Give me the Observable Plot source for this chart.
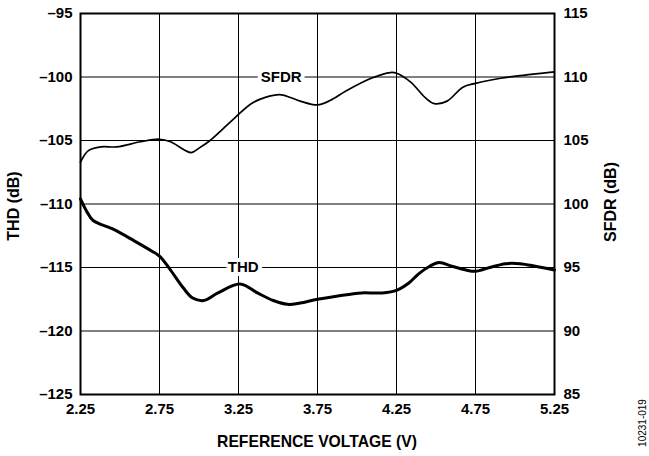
<!DOCTYPE html>
<html>
<head>
<meta charset="utf-8">
<script src="https://cdn.jsdelivr.net/npm/d3@7"></script>
<script src="https://cdn.jsdelivr.net/npm/@observablehq/plot@0.6"></script>
<style>
  html, body { margin: 0; padding: 0; background: #fff; }
  #chart { position: relative; width: 649px; height: 456px; }
  svg { font-family: "Liberation Sans", Arial, sans-serif; }
  svg text { font-weight: bold; }
  svg text.note { font-weight: normal; }
</style>
</head>
<body>
<div id="chart"></div>
<script>
// Reference voltage (V) and THD (dB, left axis)
const thdVoltage = [2.25, 2.29, 2.33, 2.46, 2.59, 2.70, 2.75, 2.82, 2.90, 2.96, 3.03, 3.12, 3.26, 3.37, 3.47, 3.56, 3.64, 3.75, 3.96, 4.03, 4.16, 4.25, 4.33, 4.39, 4.46, 4.52, 4.60, 4.69, 4.75, 4.84, 4.94, 5.03, 5.13, 5.25];
const thdValues  = [-109.6, -110.6, -111.3, -112.0, -112.9, -113.7, -114.1, -115.2, -116.6, -117.4, -117.6, -117.0, -116.3, -117.0, -117.6, -117.9, -117.8, -117.5, -117.1, -117.0, -117.0, -116.8, -116.2, -115.5, -114.9, -114.6, -114.9, -115.2, -115.3, -115.0, -114.7, -114.7, -114.9, -115.2];

// Reference voltage (V) and SFDR (dB, right axis)
const sfdrVoltage = [2.25, 2.30, 2.38, 2.48, 2.63, 2.75, 2.82, 2.95, 3.00, 3.07, 3.15, 3.22, 3.33, 3.42, 3.52, 3.64, 3.75, 3.83, 3.93, 4.09, 4.21, 4.25, 4.34, 4.43, 4.49, 4.57, 4.67, 4.75, 4.91, 5.10, 5.25];
const sfdrValues  = [103.3, 104.2, 104.5, 104.5, 104.9, 105.1, 104.9, 104.05, 104.4, 105.0, 105.9, 106.7, 107.9, 108.4, 108.6, 108.1, 107.8, 108.15, 108.9, 109.9, 110.35, 110.3, 109.6, 108.4, 107.9, 108.1, 109.2, 109.5, 109.9, 110.2, 110.4];

const xTicks = [2.25, 2.75, 3.25, 3.75, 4.25, 4.75, 5.25];
const thdTicks = [-95, -100, -105, -110, -115, -120, -125];
const sfdrTicks = [115, 110, 105, 100, 95, 90, 85];
const sfdrOffset = 210; // SFDR axis value = THD axis value + 210

const seriesLabels = ["SFDR", "THD"];
const labelVoltage = [3.52, 3.28];
const labelValue = [-100, -115];

const thd = thdVoltage.map((v, i) => ({v, y: thdValues[i]}));
const sfdr = sfdrVoltage.map((v, i) => ({v, y: sfdrValues[i] - sfdrOffset}));
const labels = seriesLabels.map((t, i) => ({t, v: labelVoltage[i], y: labelValue[i]}));

const fmtLeft = d => (d < 0 ? "\u2013" : "") + Math.abs(d);

const plot = Plot.plot({
  width: 649,
  height: 456,
  marginLeft: 80,
  marginRight: 95,
  marginTop: 13,
  marginBottom: 62,
  style: {fontFamily: "'Liberation Sans', Arial, sans-serif", background: "#fff"},
  x: {domain: [2.25, 5.25]},
  y: {domain: [-125, -95]},
  marks: [
    Plot.ruleX(xTicks, {stroke: "#000", strokeWidth: 1}),
    Plot.ruleY(thdTicks, {stroke: "#000", strokeWidth: 1}),
    Plot.frame({stroke: "#000", strokeWidth: 2}),
    Plot.axisX(xTicks, {tickSize: 0, tickPadding: 9, fontSize: 15, fontWeight: "bold", fill: "#000",
      tickFormat: d => d.toFixed(2), label: null}),
    Plot.axisY(thdTicks, {anchor: "left", tickSize: 0, tickPadding: 8, fontSize: 15, fontWeight: "bold", fill: "#000",
      tickFormat: fmtLeft, label: null}),
    Plot.axisY(sfdrTicks.map(d => d - sfdrOffset), {anchor: "right", tickSize: 0, tickPadding: 9, fontSize: 15, fontWeight: "bold", fill: "#000",
      tickFormat: d => String(d + sfdrOffset), label: null}),
    Plot.line(sfdr, {x: "v", y: "y", curve: "catmull-rom", stroke: "#000", strokeWidth: 1.7}),
    Plot.line(thd, {x: "v", y: "y", curve: "catmull-rom", stroke: "#000", strokeWidth: 3}),
    Plot.text(labels, {x: "v", y: "y", text: "t", fontSize: 15, fontWeight: "bold", fill: "#000",
      stroke: "#fff", strokeWidth: 8, paintOrder: "stroke"})
  ]
});

const svg = d3.select(plot);
svg.append("text")
  .attr("transform", "translate(15,206) rotate(-90)")
  .attr("text-anchor", "middle").attr("dominant-baseline", "middle")
  .attr("font-size", 16).attr("fill", "#000")
  .text("THD (dB)");
svg.append("text")
  .attr("transform", "translate(612,202) rotate(-90)")
  .attr("text-anchor", "middle").attr("dominant-baseline", "middle")
  .attr("font-size", 16).attr("fill", "#000")
  .text("SFDR (dB)");
svg.append("text")
  .attr("x", 317).attr("y", 443)
  .attr("text-anchor", "middle").attr("dominant-baseline", "middle")
  .attr("font-size", 15.7).attr("fill", "#000")
  .text("REFERENCE VOLTAGE (V)");
svg.append("text")
  .attr("class", "note")
  .attr("transform", "translate(643,423) rotate(-90)")
  .attr("text-anchor", "middle").attr("dominant-baseline", "middle")
  .attr("font-size", 10).attr("fill", "#000")
  .text("10231-019");

document.getElementById("chart").appendChild(plot);
</script>
</body>
</html>
